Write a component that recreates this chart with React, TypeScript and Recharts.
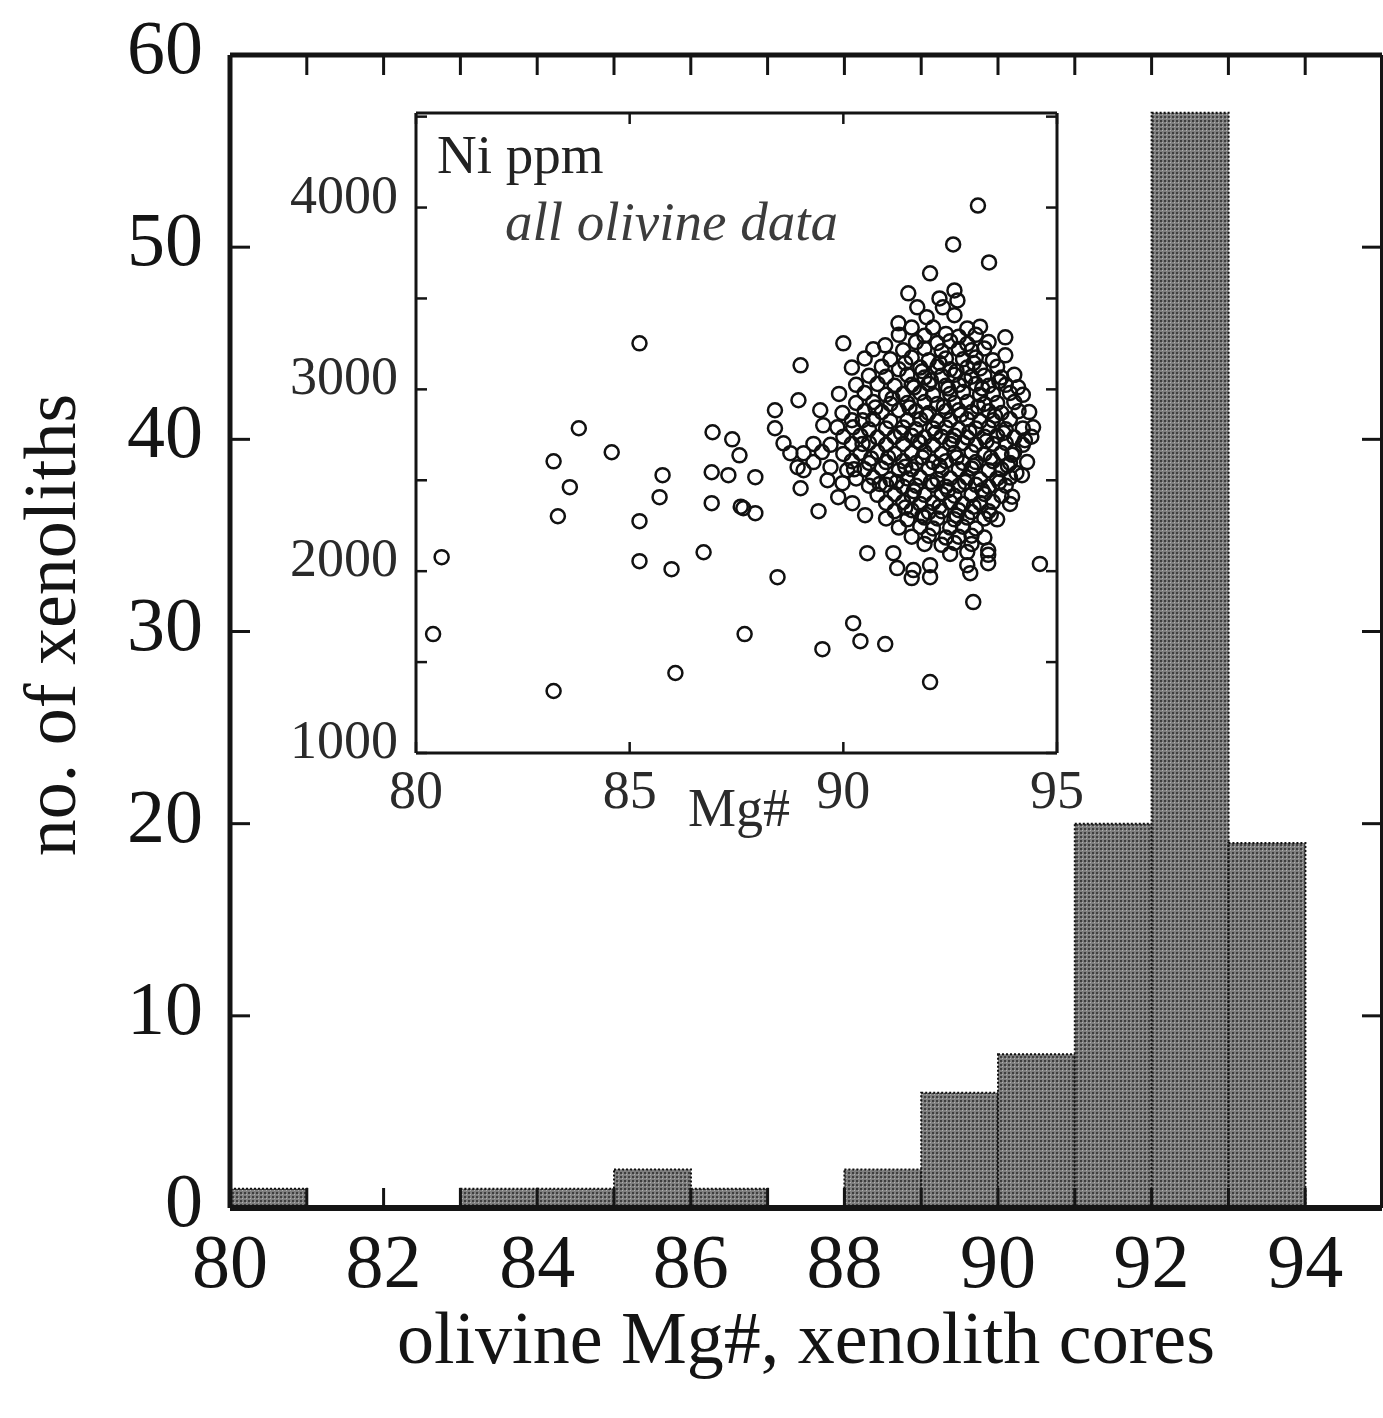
import React from "react";
import {
  ComposedChart,
  ScatterChart,
  XAxis,
  YAxis,
  Bar,
  Scatter,
} from "recharts";

// histogram: olivine Mg#, xenolith cores (1-unit bins)
const binStarts = [80, 81, 82, 83, 84, 85, 86, 87, 88, 89, 90, 91, 92, 93, 94];
const binCounts = [1, 0, 0, 1, 1, 2, 1, 0, 2, 6, 8, 20, 57, 19, 0];
const mainXLabels = [80, 82, 84, 86, 88, 90, 92, 94];
const mainXTicks = [80, 81, 82, 83, 84, 85, 86, 87, 88, 89, 90, 91, 92, 93, 94, 95];
const mainYTicks = [0, 10, 20, 30, 40, 50, 60];

// inset: Ni ppm vs Mg#, all olivine data
const insetXTicks = [80, 85, 90, 95];
const insetYTicks = [1000, 1500, 2000, 2500, 3000, 3500, 4000, 4500];
const insetYLabels = [1000, 2000, 3000, 4000];

const scatteredPts: [number, number][] = [
  [85.23, 3253], [83.81, 2786], [84.58, 2654], [83.22, 2604], [83.6, 2462],
  [83.32, 2302], [80.6, 2077], [80.4, 1654], [83.22, 1341], [85.23, 2275],
  [85.23, 2055], [85.77, 2528], [85.7, 2407], [85.98, 2011], [86.07, 1440],
  [86.73, 2104], [86.92, 2374], [86.94, 2764], [86.92, 2544], [87.4, 2725],
  [87.57, 2637], [87.31, 2528], [87.66, 2346], [87.6, 2355], [87.94, 2319],
  [87.94, 2517], [87.69, 1654], [88.4, 2885], [88.4, 2786], [88.46, 1967],
  [90.23, 1714], [90.4, 1615], [89.51, 1571], [90.98, 1599], [92.03, 1390],
  [93.04, 1830], [94.6, 2040], [89.0, 3132], [90.0, 3253], [89.42, 2330],
  [93.15, 4011], [92.57, 3797], [93.41, 3698], [92.03, 3638], [93.79, 3286],
  [93.79, 3187], [94.09, 3011], [88.95, 2940],
];

const clusterPts: [number, number][] = [
  [91.52, 3528], [91.73, 3451], [92.25, 3500], [92.6, 3544], [92.67, 3489],
  [92.33, 3451], [91.29, 3363], [91.95, 3397], [92.6, 3408], [90.98, 3242],
  [91.6, 3340], [92.1, 3340], [92.9, 3335], [93.2, 3345],
  [91.3, 3300], [91.9, 3295], [92.4, 3305], [92.7, 3290], [93.1, 3300],
  [91.7, 3260], [92.2, 3255], [92.5, 3265], [92.9, 3250], [93.4, 3260],
  [90.7, 3220], [91.4, 3215], [91.9, 3225], [92.3, 3210], [92.7, 3220], [93.0, 3215], [93.3, 3225],
  [90.5, 3170], [91.1, 3165], [91.6, 3175], [92.0, 3160], [92.4, 3170], [92.8, 3165], [93.1, 3175], [93.5, 3160],
  [90.2, 3120], [90.9, 3125], [91.3, 3110], [91.8, 3120], [92.2, 3125], [92.5, 3110], [92.9, 3120], [93.2, 3115], [93.6, 3125],
  [90.6, 3075], [91.0, 3070], [91.5, 3080], [91.9, 3065], [92.3, 3075], [92.6, 3080], [93.0, 3070], [93.3, 3075], [93.7, 3065], [94.0, 3080],
  [90.3, 3025], [90.8, 3030], [91.2, 3020], [91.6, 3025], [92.0, 3030], [92.4, 3020], [92.7, 3025], [93.1, 3030], [93.4, 3020], [93.8, 3025],
  [89.9, 2975], [90.5, 2980], [91.0, 2970], [91.4, 2975], [91.8, 2980], [92.1, 2970], [92.5, 2975], [92.8, 2985], [93.2, 2970], [93.5, 2975], [93.9, 2980], [94.2, 2970],
  [90.3, 2925], [90.7, 2930], [91.1, 2920], [91.5, 2925], [91.9, 2930], [92.2, 2920], [92.6, 2925], [92.9, 2930], [93.3, 2920], [93.6, 2925], [94.0, 2930],
  [89.46, 2885], [89.98, 2870], [90.5, 2880], [90.9, 2875], [91.3, 2885], [91.7, 2880], [92.0, 2870], [92.4, 2880], [92.7, 2885], [93.0, 2875], [93.4, 2880], [93.7, 2870], [94.1, 2880], [94.35, 2875],
  [89.53, 2802], [90.2, 2830], [90.7, 2835], [91.1, 2825], [91.5, 2830], [91.8, 2835], [92.2, 2825], [92.5, 2830], [92.9, 2835], [93.2, 2825], [93.5, 2830], [93.9, 2835],
  [89.86, 2791], [90.23, 2791], [90.6, 2780], [91.0, 2785], [91.4, 2790], [91.7, 2780], [92.1, 2785], [92.4, 2790], [92.7, 2780], [93.1, 2785], [93.4, 2790], [93.8, 2780], [94.2, 2785], [94.44, 2791],
  [90.0, 2740], [90.4, 2745], [90.8, 2735], [91.2, 2740], [91.6, 2745], [91.9, 2735], [92.3, 2740], [92.6, 2745], [92.9, 2735], [93.3, 2740], [93.6, 2745], [94.0, 2735], [94.4, 2740],
  [88.6, 2703], [89.3, 2700], [89.7, 2695], [90.2, 2700], [90.6, 2705], [91.0, 2695], [91.4, 2700], [91.8, 2705], [92.1, 2695], [92.5, 2700], [92.8, 2705], [93.1, 2695], [93.5, 2700], [93.8, 2705], [94.2, 2695],
  [88.76, 2649], [89.07, 2649], [89.5, 2655], [90.0, 2645], [90.4, 2650], [90.8, 2655], [91.2, 2645], [91.6, 2650], [91.9, 2655], [92.3, 2645], [92.6, 2650], [93.0, 2655], [93.3, 2645], [93.7, 2650], [94.0, 2655],
  [89.3, 2600], [90.2, 2605], [90.6, 2595], [91.0, 2600], [91.4, 2605], [91.7, 2595], [92.1, 2600], [92.4, 2605], [92.8, 2595], [93.1, 2600], [93.5, 2605], [93.9, 2595], [94.3, 2600],
  [88.93, 2572], [89.07, 2555], [89.7, 2572], [90.09, 2555], [90.5, 2560], [90.9, 2565], [91.3, 2555], [91.6, 2560], [92.0, 2565], [92.3, 2555], [92.7, 2560], [93.0, 2565], [93.4, 2555], [93.7, 2560], [94.18, 2528],
  [89.63, 2500], [90.3, 2510], [90.7, 2515], [91.1, 2505], [91.5, 2510], [91.8, 2515], [92.2, 2505], [92.5, 2510], [92.9, 2515], [93.2, 2505], [93.6, 2510], [93.9, 2515],
  [89.0, 2456], [89.98, 2484], [90.6, 2470], [91.0, 2475], [91.4, 2465], [91.7, 2470], [92.1, 2475], [92.4, 2465], [92.7, 2470], [93.1, 2475], [93.4, 2465], [93.8, 2470],
  [89.88, 2407], [90.8, 2420], [91.2, 2425], [91.6, 2415], [91.9, 2420], [92.3, 2425], [92.6, 2415], [93.0, 2420], [93.3, 2425], [93.7, 2415],
  [90.21, 2374], [91.0, 2375], [91.4, 2380], [91.8, 2370], [92.1, 2375], [92.5, 2380], [92.8, 2370], [93.2, 2375], [93.5, 2380], [93.9, 2370],
  [90.51, 2308], [91.2, 2330], [91.6, 2335], [92.0, 2325], [92.3, 2330], [92.7, 2335], [93.0, 2325], [93.4, 2330],
  [91.0, 2290], [91.5, 2285], [91.9, 2295], [92.2, 2290], [92.6, 2285], [92.9, 2295], [93.3, 2290], [93.6, 2285],
  [91.3, 2240], [91.8, 2245], [92.1, 2235], [92.5, 2240], [92.8, 2245], [93.1, 2235],
  [91.6, 2190], [92.0, 2195], [92.4, 2185], [92.7, 2190], [93.0, 2195], [93.3, 2185],
  [91.9, 2150], [92.3, 2145], [92.6, 2155], [93.0, 2150], [93.39, 2115],
  [90.56, 2099], [91.17, 2099], [92.5, 2095], [92.9, 2105], [93.39, 2090],
  [91.26, 2017], [91.64, 2006], [92.03, 2033], [92.9, 2033], [93.39, 2044],
  [91.6, 1962], [92.03, 1967], [92.97, 1989],
];

// extra points filling the dense core between the rows above
const corePts: [number, number][] = [
  [91.15, 2950], [91.55, 2900], [91.95, 2855], [92.35, 2905], [92.75, 2860], [93.15, 2905], [93.55, 2855],
  [91.35, 2760], [91.75, 2715], [92.15, 2760], [92.55, 2720], [92.95, 2765], [93.35, 2715], [93.75, 2760],
  [91.05, 2625], [91.45, 2575], [91.85, 2625], [92.25, 2580], [92.65, 2625], [93.05, 2580], [93.45, 2625], [93.85, 2580],
  [91.25, 2490], [91.65, 2440], [92.05, 2490], [92.45, 2445], [92.85, 2490], [93.25, 2445], [93.65, 2490],
  [91.45, 2350], [91.85, 2305], [92.25, 2355], [92.65, 2305], [93.05, 2355], [93.45, 2310],
  [91.45, 3145], [91.85, 3100], [92.25, 3145], [92.65, 3100], [93.05, 3145],
  [91.65, 3010], [92.05, 3050], [92.45, 3005], [92.85, 3050], [93.25, 3005], [93.65, 3045],
  [90.45, 2700], [90.25, 2560], [90.65, 2620], [90.85, 2480], [90.45, 2830], [90.75, 2900],
  [93.95, 2640], [94.25, 2720], [94.05, 2540], [93.95, 2410],
];

const histData = binStarts.map((lo, i) => ({ bin: String(lo), lo, count: binCounts[i] }));
const olivineData = [...scatteredPts, ...clusterPts, ...corePts].map(([mg, ni]) => ({ mg, ni }));

const SERIF = "'Liberation Serif', 'Times New Roman', serif";
const INK = "#141414";

const MainBottomTick = (props: any) => {
  const { x, y, payload } = props;
  return (
    <g>
      <line x1={x} y1={y} x2={x} y2={y - 20} stroke={INK} strokeWidth={3} />
      {mainXLabels.includes(payload.value) ? (
        <text x={x} y={y + 79} textAnchor="middle" fontFamily={SERIF} fontSize={76} fill={INK}>
          {payload.value}
        </text>
      ) : null}
    </g>
  );
};

const MainTopTick = (props: any) => {
  const { x, y } = props;
  return <line x1={x} y1={y} x2={x} y2={y + 20} stroke={INK} strokeWidth={3} />;
};

const MainLeftTick = (props: any) => {
  const { x, y, payload } = props;
  return (
    <g>
      <line x1={x} y1={y} x2={x + 20} y2={y} stroke={INK} strokeWidth={3} />
      <text x={x - 27} y={y + 18} textAnchor="end" fontFamily={SERIF} fontSize={76} fill={INK}>
        {payload.value}
      </text>
    </g>
  );
};

const MainRightTick = (props: any) => {
  const { x, y } = props;
  return <line x1={x} y1={y} x2={x - 20} y2={y} stroke={INK} strokeWidth={3} />;
};

const InsetBottomTick = (props: any) => {
  const { x, y, payload } = props;
  return (
    <g>
      <line x1={x} y1={y} x2={x} y2={y - 11} stroke={INK} strokeWidth={2.5} />
      <text x={x} y={y + 55} textAnchor="middle" fontFamily={SERIF} fontSize={54} fill="#2a2a2a">
        {payload.value}
      </text>
    </g>
  );
};

const InsetTopTick = (props: any) => {
  const { x, y } = props;
  return <line x1={x} y1={y} x2={x} y2={y + 11} stroke={INK} strokeWidth={2.5} />;
};

const InsetLeftTick = (props: any) => {
  const { x, y, payload } = props;
  return (
    <g>
      <line x1={x} y1={y} x2={x + 11} y2={y} stroke={INK} strokeWidth={2.5} />
      {insetYLabels.includes(payload.value) ? (
        <text x={x - 18} y={y + 5} textAnchor="end" fontFamily={SERIF} fontSize={54} fill="#2a2a2a">
          {payload.value}
        </text>
      ) : null}
    </g>
  );
};

const InsetRightTick = (props: any) => {
  const { x, y } = props;
  return <line x1={x} y1={y} x2={x - 11} y2={y} stroke={INK} strokeWidth={2.5} />;
};

const OpenCircle = (props: any) => (
  <circle cx={props.cx} cy={props.cy} r={7} fill="none" stroke="#111" strokeWidth={2.5} />
);

export default function App() {
  return (
    <div style={{ position: "absolute", left: 0, top: 0, width: 1383, height: 1418, background: "#fff" }}>
      <div style={{ position: "absolute", left: 0, top: 0 }}>
        <ComposedChart
          width={1383}
          height={1418}
          data={histData}
          margin={{ top: 54, right: 0, bottom: 0, left: 0 }}
          barCategoryGap={0}
          barGap={0}
        >
          <defs>
            <pattern id="dots" width="4" height="4" patternUnits="userSpaceOnUse">
              <rect width="4" height="4" fill="#7e7e7e" />
              <rect x="0" y="0" width="2" height="2" fill="#3e3e3e" />
              <rect x="2" y="2" width="1" height="1" fill="#b0b0b0" />
            </pattern>
          </defs>
          <XAxis xAxisId="cat" dataKey="bin" type="category" hide height={0} padding={{ left: 0, right: 0 }} />
          <XAxis
            xAxisId="num"
            dataKey="lo"
            type="number"
            domain={[80, 95]}
            allowDataOverflow
            ticks={mainXTicks}
            interval={0}
            height={210}
            tickSize={0}
            tickMargin={0}
            tickLine={false}
            axisLine={{ stroke: INK, strokeWidth: 6 }}
            tick={<MainBottomTick />}
          />
          <XAxis
            xAxisId="top"
            dataKey="lo"
            orientation="top"
            type="number"
            domain={[80, 95]}
            allowDataOverflow
            ticks={mainXTicks}
            interval={0}
            height={1}
            tickSize={0}
            tickMargin={0}
            tickLine={false}
            axisLine={{ stroke: INK, strokeWidth: 5 }}
            tick={<MainTopTick />}
          />
          <YAxis
            yAxisId="left"
            type="number"
            domain={[0, 60]}
            allowDataOverflow
            ticks={mainYTicks}
            interval={0}
            width={230}
            tickSize={0}
            tickMargin={0}
            tickLine={false}
            axisLine={{ stroke: INK, strokeWidth: 5 }}
            tick={<MainLeftTick />}
          />
          <YAxis
            yAxisId="right"
            dataKey="count"
            orientation="right"
            type="number"
            domain={[0, 60]}
            allowDataOverflow
            ticks={mainYTicks}
            interval={0}
            width={1}
            tickSize={0}
            tickMargin={0}
            tickLine={false}
            axisLine={{ stroke: INK, strokeWidth: 4 }}
            tick={<MainRightTick />}
          />
          <Bar
            xAxisId="cat"
            yAxisId="left"
            dataKey="count"
            fill="url(#dots)"
            stroke="#111"
            strokeWidth={2}
            strokeDasharray="2 2"
            isAnimationActive={false}
          />
        </ComposedChart>
      </div>

      <div style={{ position: "absolute", left: 0, top: 0 }}>
        <ScatterChart
          width={1100}
          height={840}
          data={olivineData}
          margin={{ top: 112, right: 42, bottom: 0, left: 0 }}
        >
          <XAxis
            xAxisId="b"
            dataKey="mg"
            type="number"
            domain={[80, 95]}
            allowDataOverflow
            ticks={insetXTicks}
            interval={0}
            height={87}
            tickSize={0}
            tickMargin={0}
            tickLine={false}
            axisLine={{ stroke: INK, strokeWidth: 3 }}
            tick={<InsetBottomTick />}
          />
          <XAxis
            xAxisId="t"
            dataKey="mg"
            orientation="top"
            type="number"
            domain={[80, 95]}
            allowDataOverflow
            ticks={insetXTicks}
            interval={0}
            height={1}
            tickSize={0}
            tickMargin={0}
            tickLine={false}
            axisLine={{ stroke: INK, strokeWidth: 3 }}
            tick={<InsetTopTick />}
          />
          <YAxis
            yAxisId="l"
            dataKey="ni"
            type="number"
            domain={[1000, 4520]}
            allowDataOverflow
            ticks={insetYTicks}
            interval={0}
            width={416}
            tickSize={0}
            tickMargin={0}
            tickLine={false}
            axisLine={{ stroke: INK, strokeWidth: 3 }}
            tick={<InsetLeftTick />}
          />
          <YAxis
            yAxisId="r"
            dataKey="ni"
            orientation="right"
            type="number"
            domain={[1000, 4520]}
            allowDataOverflow
            ticks={insetYTicks}
            interval={0}
            width={1}
            tickSize={0}
            tickMargin={0}
            tickLine={false}
            axisLine={{ stroke: INK, strokeWidth: 3 }}
            tick={<InsetRightTick />}
          />
          <Scatter
            xAxisId="b"
            yAxisId="l"
            data={olivineData}
            shape={<OpenCircle />}
            isAnimationActive={false}
          />
        </ScatterChart>
      </div>

      <svg
        width={1383}
        height={1418}
        style={{ position: "absolute", left: 0, top: 0, pointerEvents: "none" }}
      >
        <text
          x={75}
          y={625}
          transform="rotate(-90 75 625)"
          textAnchor="middle"
          fontFamily={SERIF}
          fontSize={74}
          fill={INK}
        >
          no. of xenoliths
        </text>
        <text x={806} y={1363} textAnchor="middle" fontFamily={SERIF} fontSize={74} fill={INK}>
          olivine Mg#, xenolith cores
        </text>
        <text x={437} y={173} fontFamily={SERIF} fontSize={55} fill="#222">
          Ni ppm
        </text>
        <text x={505} y={240} fontFamily={SERIF} fontSize={55} fontStyle="italic" fill="#3c3c3c">
          all olivine data
        </text>
        <text x={688} y={826} fontFamily={SERIF} fontSize={54} fill="#2a2a2a">
          Mg#
        </text>
      </svg>
    </div>
  );
}
